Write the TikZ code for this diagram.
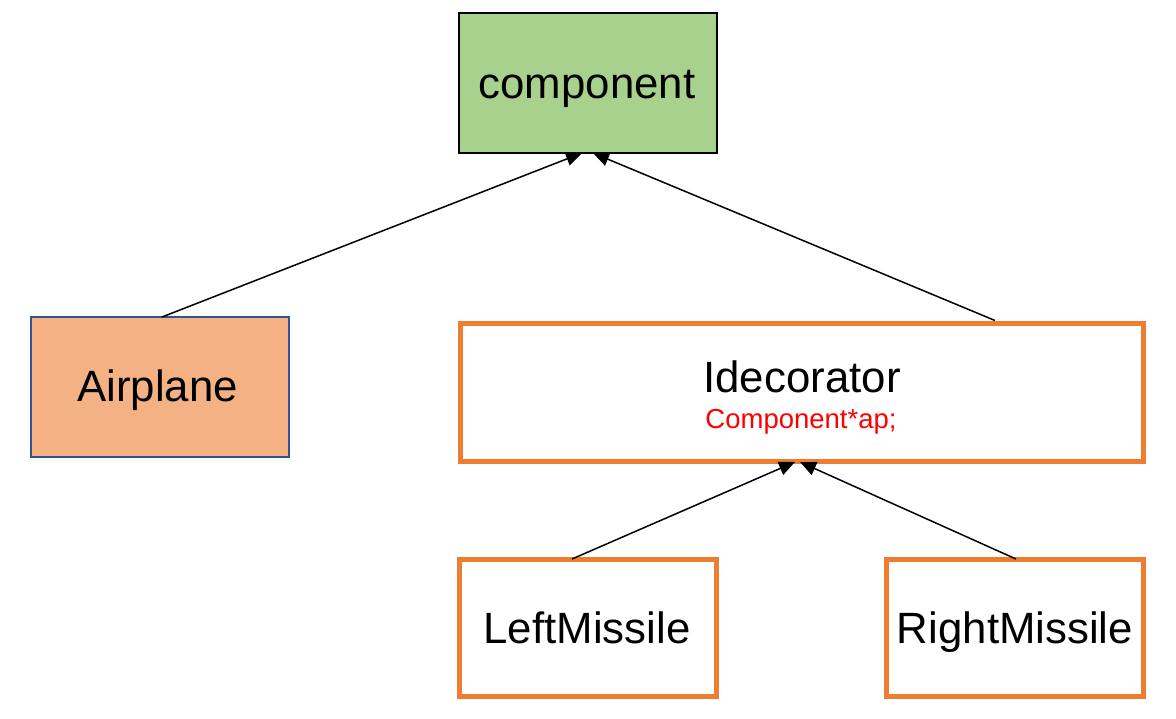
\documentclass[tikz,border=0pt]{standalone}
\usepackage{fontspec}
\setmainfont{Liberation Sans}
\usetikzlibrary{arrows.meta,calc}
\definecolor{boxgreen}{HTML}{A9D18E}
\definecolor{boxpeach}{HTML}{F4B183}
\definecolor{boxblue}{HTML}{2F5597}
\definecolor{boxorange}{HTML}{ED7D31}
\definecolor{attrred}{HTML}{FF0000}
\tikzset{
  box/.style={rectangle, inner sep=0pt, outer sep=0pt},
  greenbox/.style={box, draw=black, fill=boxgreen, line width=1.6pt},
  peachbox/.style={box, draw=boxblue, fill=boxpeach, line width=1.4pt},
  orangebox/.style={box, draw=boxorange, fill=white, line width=5pt},
  bigtext/.style={anchor=base, inner sep=0pt, font=\fontsize{43.8}{50}\selectfont},
  smalltext/.style={anchor=base, inner sep=0pt, text=attrred, font=\fontsize{27.5}{32}\selectfont},
  inherit/.style={line width=1.5pt, -{Triangle[length=16pt,width=14pt]}},
}
\begin{document}
\begin{tikzpicture}[x=1pt,y=-1pt]
\useasboundingbox (0,0) rectangle (1176,718);
% boxes
\node[greenbox, minimum width=258pt, minimum height=140pt] (comp) at (588,83) {};
\node[peachbox, minimum width=258pt, minimum height=140pt] (air) at (160,387) {};
\node[orangebox, minimum width=683pt, minimum height=138pt] (dec) at (801.5,392) {};
\node[orangebox, minimum width=256.5pt, minimum height=136.5pt] (lm) at (587.75,627.75) {};
\node[orangebox, minimum width=257pt, minimum height=136.5pt] (rm) at (1015,627.75) {};
% texts
\node[bigtext] (comptext) at (587,98) {component};
\node[bigtext] (airtext) at (157.5,401) {Airplane};
\node[bigtext] (dectext) at (802,392) {Idecorator};
\node[smalltext] (decattr) at (801,428) {Component*ap;};
\node[bigtext] (lmtext) at (587,643) {LeftMissile};
\node[bigtext] (rmtext) at (1015,643) {RightMissile};
% connectors
\draw[inherit] ($(air.north)+(2,0)$) -- ($(comp.south)+(-6,0)$);
\draw[inherit] ($(dec.north)+(193.5,-2.5)$) -- ($(comp.south)+(5,0)$);
\draw[inherit] ($(lm.north)+(-15.75,-0.5)$) -- ($(dec.south)+(-6.5,1)$);
\draw[inherit] ($(rm.north)+(1,-0.5)$) -- ($(dec.south)+(-1.5,1)$);
\end{tikzpicture}
\end{document}
